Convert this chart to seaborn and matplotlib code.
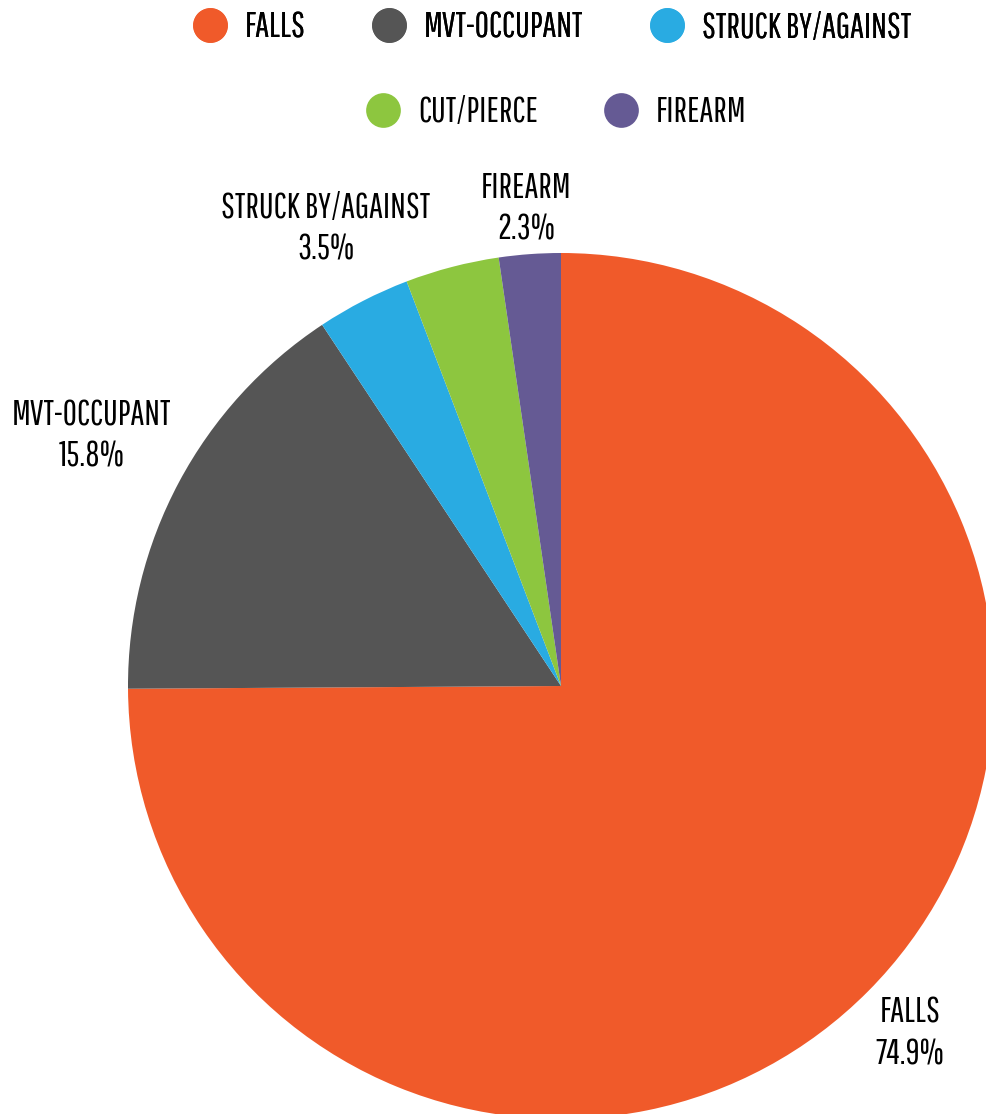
import matplotlib
matplotlib.use('Agg')
import matplotlib.pyplot as plt
from matplotlib.lines import Line2D
import numpy as np
import seaborn as sns

# --- Data ---
categories = ['FALLS', 'MVT-OCCUPANT', 'STRUCK BY/AGAINST', 'CUT/PIERCE', 'FIREARM']
shares = [74.9, 15.8, 3.5, 3.5, 2.3]
# the CUT/PIERCE label is not printed on the chart
show_label = [True, True, True, False, True]
label_dist = [1.137, 1.229, 1.189, 1.15, 1.106]

palette = sns.color_palette(['#F05A2A', '#555555', '#29ABE2', '#8DC63F', '#655A94'])

# Style: white background, condensed font (first one installed is used)
sns.set_theme(style='white')
plt.rcParams['font.family'] = ['Pathway Gothic One', 'Bebas Neue', 'Barlow Condensed',
                               'DejaVu Sans']
plt.rcParams['text.color'] = 'black'

fig = plt.figure(figsize=(9.86, 11.14), dpi=100)

# pie centre at (561, 686) px, radius 433 px
ax = fig.add_axes([128 / 986, (1114 - 686 - 433) / 1114, 866 / 986, 866 / 1114])
wedges, _ = ax.pie(shares, colors=palette, startangle=90, counterclock=False,
                   wedgeprops=dict(linewidth=0))
ax.set_xlim(-1, 1)
ax.set_ylim(-1, 1)
ax.set_aspect('auto')
ax.axis('off')

# Outside labels at each slice's middle angle
for w, name, val, show, d in zip(wedges, categories, shares, show_label, label_dist):
    if not show:
        continue
    mid = np.deg2rad((w.theta1 + w.theta2) / 2)
    ax.text(d * np.cos(mid), d * np.sin(mid), f'{name}\n{val}%',
            ha='center', va='center', fontsize=25, color='black', linespacing=1.3)

# Legend: two centred rows
def make_handle(c):
    return Line2D([], [], marker='o', linestyle='', markersize=25,
                  markerfacecolor=c, markeredgewidth=0)

handles = [make_handle(c) for c in palette]
leg_kw = dict(loc='center', frameon=False, fontsize=25, handlelength=1.0,
              handletextpad=0.5, columnspacing=1.9, labelcolor='black')
leg1 = fig.legend(handles[:3], categories[:3], ncol=3,
                  bbox_to_anchor=(552 / 986, 1 - 27 / 1114), **leg_kw)
fig.add_artist(leg1)
fig.legend(handles[3:], categories[3:], ncol=2,
           bbox_to_anchor=(556 / 986, 1 - 112 / 1114), **leg_kw)

plt.savefig('out.png', dpi=100)
